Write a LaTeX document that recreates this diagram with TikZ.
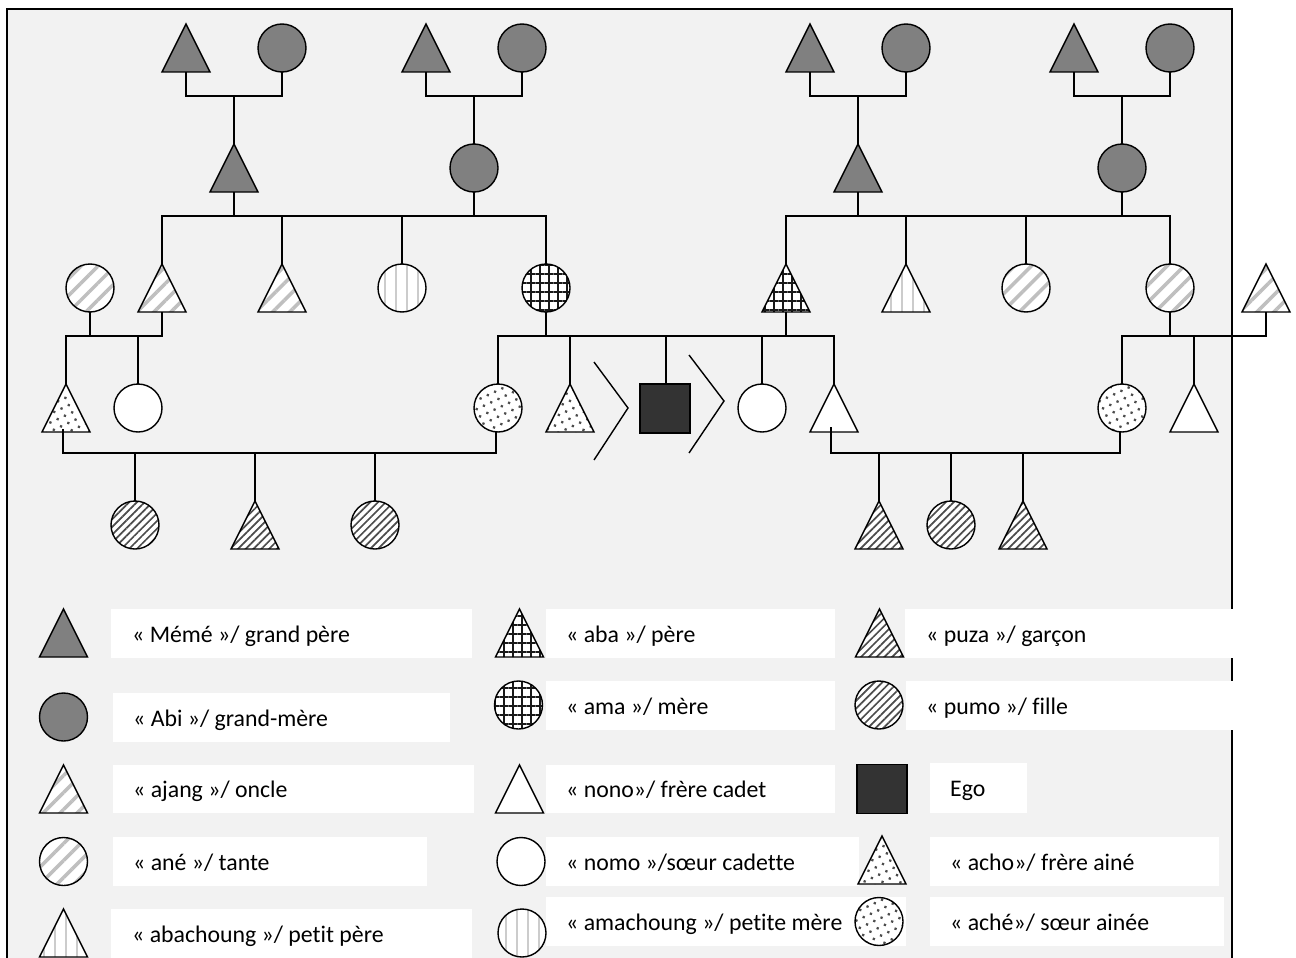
\documentclass[tikz,border=0pt]{standalone}
\usepackage{fontspec}
\setmainfont{Carlito}[Ligatures=NoCommon]
\usetikzlibrary{shapes.geometric,patterns.meta}
\definecolor{bgc}{HTML}{F2F2F2}
\begin{document}
\begin{tikzpicture}[x=1pt,y=-1pt,
  base/.style={draw=black, line width=1.4pt, inner sep=0pt, outer sep=0pt},
  tri/.style={base, isosceles triangle, shape border rotate=90, isosceles triangle stretches, minimum width=48pt, minimum height=48pt, anchor=north},
  circ/.style={base, circle, minimum size=48pt},
  sq/.style={base, rectangle, minimum width=50pt, minimum height=49pt},
  fgray/.style={fill=black!50},
  fego/.style={fill=black!80},
  fwhite/.style={fill=white},
  fldiag/.style={preaction={fill=white}, pattern={Lines[angle=45,distance=12pt,line width=3.5pt]}, pattern color=black!25},
  fvstr/.style={preaction={fill=white}, pattern={Lines[angle=90,distance=11pt,line width=2pt]}, pattern color=black!20},
  fcross/.style={preaction={fill=white}, pattern={Hatch[angle=0,distance=9pt,line width=2.2pt]}, pattern color=black!90},
  fdots/.style={preaction={fill=white}, pattern={Dots[angle=25,distance=8pt,radius=1.6pt]}, pattern color=black!70},
  fdense/.style={preaction={fill=white}, pattern={Lines[angle=45,distance=5.5pt,line width=1.7pt]}, pattern color=black!70},
  ln/.style={line width=1.4pt},
  box/.style={fill=white},
  lbl/.style={anchor=base west, inner sep=0pt, font=\fontsize{23.8}{28}\selectfont}
]
\useasboundingbox (0,0) rectangle (1296,958);
\fill[white] (0,0) rectangle (1296,958);
\fill[bgc] (7,9) rectangle (1232,958);
\draw[line width=2pt] (7,958) -- (7,9) -- (1232,9) -- (1232,958);

% generation 1
\node[tri,fgray] (t1) at (186,24) {};
\node[circ,fgray] (c1) at (282,48) {};
\node[tri,fgray] (t2) at (426,24) {};
\node[circ,fgray] (c2) at (522,48) {};
\node[tri,fgray] (t3) at (810,24) {};
\node[circ,fgray] (c3) at (906,48) {};
\node[tri,fgray] (t4) at (1074,24) {};
\node[circ,fgray] (c4) at (1170,48) {};
% generation 2
\node[tri,fgray] (pgf) at (234,144) {};
\node[circ,fgray] (pgm) at (474,168) {};
\node[tri,fgray] (mgf) at (858,144) {};
\node[circ,fgray] (mgm) at (1122,168) {};
% generation 3
\node[circ,fldiag] (aneL) at (90,288) {};
\node[tri,fldiag] (ajL1) at (162,264) {};
\node[tri,fldiag] (ajL2) at (282,264) {};
\node[circ,fvstr] (amach) at (402,288) {};
\node[circ,fcross] (ama) at (546,288) {};
\node[tri,fcross] (aba) at (786,264) {};
\node[tri,fvstr] (abach) at (906,264) {};
\node[circ,fldiag] (aneR1) at (1026,288) {};
\node[circ,fldiag] (aneR2) at (1170,288) {};
\node[tri,fldiag] (ajR) at (1266,264) {};
% generation 4
\node[tri,fdots] (achoL) at (66,384) {};
\node[circ,fwhite] (nomoL) at (138,408) {};
\node[circ,fdots] (acheL) at (498,408) {};
\node[tri,fdots] (achoM) at (570,384) {};
\node[sq,fego] (ego) at (665,408.5) {};
\node[circ,fwhite] (nomoM) at (762,408) {};
\node[tri,fwhite] (nonoM) at (834,384) {};
\node[circ,fdots] (acheR) at (1122,408) {};
\node[tri,fwhite] (nonoR) at (1194,384) {};
% generation 5
\node[circ,fdense] (pumo1) at (135,525) {};
\node[tri,fdense] (puza1) at (255,501) {};
\node[circ,fdense] (pumo2) at (375,525) {};
\node[tri,fdense] (puza2) at (879,501) {};
\node[circ,fdense] (pumo3) at (951,525) {};
\node[tri,fdense] (puza3) at (1023,501) {};

% junctions
\coordinate (g1) at (234,96);
\coordinate (g2) at (474,96);
\coordinate (g3) at (858,96);
\coordinate (g4) at (1122,96);
\coordinate (sL) at (354,216);
\coordinate (sR) at (978,216);
\coordinate (kL) at (114,336);
\coordinate (kM) at (666,336);
\coordinate (kR) at (1170,336);
\coordinate (mL) at (255,453);
\coordinate (mR) at (951,453);

% connectors gen 1 -> 2
\draw[ln] (t1.south) |- (g1) -| (c1.south);
\draw[ln] (g1) -- (pgf.north);
\draw[ln] (t2.south) |- (g2) -| (c2.south);
\draw[ln] (g2) -- (pgm.north);
\draw[ln] (t3.south) |- (g3) -| (c3.south);
\draw[ln] (g3) -- (mgf.north);
\draw[ln] (t4.south) |- (g4) -| (c4.south);
\draw[ln] (g4) -- (mgm.north);
% siblings gen 3
\draw[ln] (ajL1.north) |- (sL) -| (ama.north);
\draw[ln] (pgf.south) -- (pgf.south |- sL);
\draw[ln] (pgm.south) -- (pgm.south |- sL);
\draw[ln] (ajL2.north) -- (ajL2.north |- sL);
\draw[ln] (amach.north) -- (amach.north |- sL);
\draw[ln] (aba.north) |- (sR) -| (aneR2.north);
\draw[ln] (mgf.south) -- (mgf.south |- sR);
\draw[ln] (mgm.south) -- (mgm.south |- sR);
\draw[ln] (abach.north) -- (abach.north |- sR);
\draw[ln] (aneR1.north) -- (aneR1.north |- sR);
% couples gen 3 -> gen 4
\draw[ln] (ajL1.south) |- (kL) -| (achoL.north);
\draw[ln] (aneL.south) -- (aneL.south |- kL);
\draw[ln] (nomoL.north) -- (nomoL.north |- kL);
\draw[ln] (acheL.north) |- (kM) -| (nonoM.north);
\draw[ln] (ama.south) -- (ama.south |- kM);
\draw[ln] (aba.south) -- (aba.south |- kM);
\draw[ln] (achoM.north) -- (achoM.north |- kM);
\draw[ln] (ego.north -| kM) -- (kM);
\draw[ln] (nomoM.north) -- (nomoM.north |- kM);
\draw[ln] (acheR.north) |- (kR) -| (ajR.south);
\draw[ln] (aneR2.south) -- (aneR2.south |- kR);
\draw[ln] (nonoR.north) -- (nonoR.north |- kR);
% couples gen 4 -> gen 5
\draw[ln] ([xshift=-3pt,yshift=3pt]achoL.south) |- (mL) -| ([xshift=-2pt]acheL.south);
\draw[ln] (pumo1.north) -- (pumo1.north |- mL);
\draw[ln] (puza1.north) -- (puza1.north |- mL);
\draw[ln] (pumo2.north) -- (pumo2.north |- mL);
\draw[ln] ([xshift=-3pt,yshift=5pt]nonoM.south) |- (mR) -| ([xshift=-2pt]acheR.south);
\draw[ln] (puza2.north) -- (puza2.north |- mR);
\draw[ln] (pumo3.north) -- (pumo3.north |- mR);
\draw[ln] (puza3.north) -- (puza3.north |- mR);

% chevrons
\draw[ln] (594,362) -- (628,408) -- (594,460);
\draw[ln] (689,355) -- (724,401) -- (689,453);

% legend boxes
\fill[box] (111,609) rectangle (472,658);
\fill[box] (113,693) rectangle (450,742);
\fill[box] (113,765) rectangle (474,813);
\fill[box] (113,837) rectangle (427,886);
\fill[box] (111,909) rectangle (472,958);
\fill[box] (546,609) rectangle (835,658);
\fill[box] (546,681) rectangle (835,730);
\fill[box] (546,765) rectangle (835,813);
\fill[box] (546,837) rectangle (859,886);
\fill[box] (546,897) rectangle (906,946);
\fill[box] (905,609) rectangle (1296,658);
\fill[box] (906,681) rectangle (1296,730);
\fill[box] (930,763) rectangle (1027,813);
\fill[box] (930,837) rectangle (1219,886);
\fill[box] (930,897) rectangle (1224,946);

% legend symbols
\node[tri,fgray] (lg1) at (63.5,609) {};
\node[circ,fgray] (lg2) at (63.5,717) {};
\node[tri,fldiag] (lg3) at (63.5,765) {};
\node[circ,fldiag] (lg4) at (63.5,861.5) {};
\node[tri,fvstr] (lg5) at (63.5,909) {};
\node[tri,fcross] (lg6) at (519.5,609) {};
\node[circ,fcross] (lg7) at (518.5,705) {};
\node[tri,fwhite] (lg8) at (519.5,765) {};
\node[circ,fwhite] (lg9) at (521,861.5) {};
\node[circ,fvstr] (lg10) at (522,933) {};
\node[tri,fdense] (lg11) at (879.5,609) {};
\node[circ,fdense] (lg12) at (879,705) {};
\node[sq,fego] (lg13) at (882,789) {};
\node[tri,fdots] (lg14) at (882,836) {};
\node[circ,fdots] (lg15) at (879,921.5) {};

% legend texts
\node[lbl] (tx1) at (132,642) {« Mémé »/ grand père};
\node[lbl] (tx2) at (133,726) {« Abi »/ grand-mère};
\node[lbl] (tx3) at (133,797) {« ajang »/ oncle};
\node[lbl] (tx4) at (133,870) {« ané »/ tante};
\node[lbl] (tx5) at (132,942) {« abachoung »/ petit père};
\node[lbl] (tx6) at (566,642) {« aba »/ père};
\node[lbl] (tx7) at (566,714) {« ama »/ mère};
\node[lbl] (tx8) at (566,797) {« nono»/ frère cadet};
\node[lbl] (tx9) at (566,870) {« nomo »/sœur cadette};
\node[lbl] (tx10) at (566,930) {« amachoung »/ petite mère};
\node[lbl] (tx11) at (926,642) {« puza »/ garçon};
\node[lbl] (tx12) at (926,714) {« pumo »/ fille};
\node[lbl] (tx13) at (950,796) {Ego};
\node[lbl] (tx14) at (950,870) {« acho»/ frère ainé};
\node[lbl] (tx15) at (950,930) {« aché»/ sœur ainée};
\end{tikzpicture}
\end{document}
